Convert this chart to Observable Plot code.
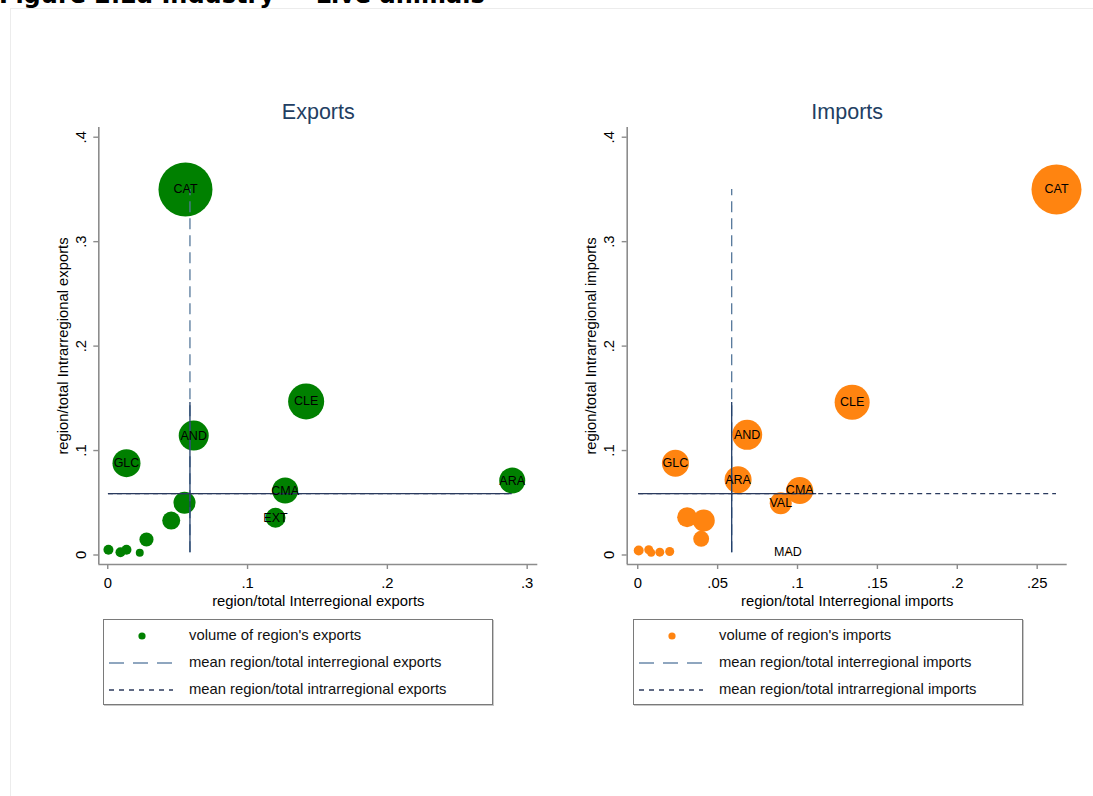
<!DOCTYPE html>
<html>
<head>
<meta charset="utf-8">
<script src="https://cdn.jsdelivr.net/npm/d3@7"></script>
<script src="https://cdn.jsdelivr.net/npm/@observablehq/plot@0.6"></script>
<style>
  html, body { margin: 0; padding: 0; background: #fff; }
  #fig { position: relative; width: 1093px; height: 796px; overflow: hidden; background: #fff;
         font-family: "Liberation Sans", Arial, sans-serif; }
  #heading { position: absolute; left: -1px; top: -17px; font: bold 24px/24px "DejaVu Sans", sans-serif;
             color: #000; white-space: nowrap; }
  #sheet { position: absolute; left: 10px; top: 8px; width: 1100px; height: 800px;
           border: 1px solid #ececec; box-sizing: border-box; }
  .panel { position: absolute; top: 0; }
  .legend { position: absolute; top: 619px; width: 390px; height: 86px; box-sizing: border-box;
            border: 1px solid #7a7a7a; box-shadow: 1px 1px 0 #c8c8c8; background: #fff; }
  .legend svg { position: absolute; left: 0; top: 0; }
  .legend .row { position: absolute; left: 85px; font-size: 14.8px; color: #111; white-space: nowrap;
                 line-height: 16px; }
</style>
</head>
<body>
<div id="fig">
  <div id="sheet"></div>
  <div id="heading">Figure 2.2a Industry — Live animals</div>
</div>
<script>
// Regional shares of interregional (x) and intrarregional (y) trade, marker area = trade volume
const exportRegions = ["CAT", "CLE", "AND", "GLC", "ARA", "CMA", "EXT", "", "", "", "", "", "", ""];
const exportInter   = [0.0556, 0.1419, 0.0615, 0.0134, 0.2893, 0.1269, 0.1200, 0.0549, 0.0454, 0.0277, 0.0005, 0.0091, 0.0134, 0.0229];
const exportIntra   = [0.3500, 0.1470, 0.1144, 0.0879, 0.0713, 0.0617, 0.0356, 0.0500, 0.0330, 0.0148, 0.0050, 0.0027, 0.0050, 0.0021];
const exportVolume  = [0.323, 0.144, 0.100, 0.087, 0.075, 0.075, 0.044, 0.054, 0.036, 0.022, 0.011, 0.011, 0.011, 0.007];

const importRegions = ["CAT", "CLE", "AND", "GLC", "ARA", "CMA", "VAL", "MAD", "", "", "", "", "", "", "", ""];
const importInter   = [0.2621, 0.1342, 0.0685, 0.0236, 0.0628, 0.1014, 0.0895, 0.0940, 0.0309, 0.0413, 0.0397, 0.0006, 0.0069, 0.0084, 0.0138, 0.0200];
const importIntra   = [0.3500, 0.1463, 0.1151, 0.0879, 0.0720, 0.0618, 0.0496, 0.0027, 0.0362, 0.0330, 0.0155, 0.0043, 0.0050, 0.0021, 0.0027, 0.0033];
const importVolume  = [0.277, 0.136, 0.100, 0.081, 0.081, 0.081, 0.054, 0.001, 0.044, 0.054, 0.028, 0.011, 0.009, 0.007, 0.009, 0.009];

// Means of the regional shares (17 regions)
const meanInter = [0.0588, 0.0588];
const meanIntra = [0.0588, 0.0588];
// Extent of the solid reference segments
const solidInterTop = [0.146, 0.146];
const solidIntraRight = [0.2893, 0.112];

const panelTitles = ["Exports", "Imports"];
const xTitles = ["region/total Interregional exports", "region/total Interregional imports"];
const yTitles = ["region/total Intrarregional exports", "region/total Intrarregional imports"];
const legendTitles = [
  ["volume of region's exports", "mean region/total interregional exports", "mean region/total intrarregional exports"],
  ["volume of region's imports", "mean region/total interregional imports", "mean region/total intrarregional imports"]
];

const yTicks = [0, 0.1, 0.2, 0.3, 0.4];
const yTickLabels = ["0", ".1", ".2", ".3", ".4"];
const xTicksExp = [0, 0.1, 0.2, 0.3];
const xTickLabelsExp = ["0", ".1", ".2", ".3"];
const xTicksImp = [0, 0.05, 0.1, 0.15, 0.2, 0.25];
const xTickLabelsImp = ["0", ".05", ".1", ".15", ".2", ".25"];

const colors = ["#008000", "#ff8410"];

function rows(regions, inter, intra, volume) {
  return regions.map((name, i) => ({name, inter: inter[i], intra: intra[i], volume: volume[i]}));
}

const panels = [
  {data: rows(exportRegions, exportInter, exportIntra, exportVolume), xTicks: xTicksExp, xLabels: xTickLabelsExp,
   xDomain: [-0.0064, 0.3076], left: 0, marginLeft: 98.3, marginRight: 22.7},
  {data: rows(importRegions, importInter, importIntra, importVolume), xTicks: xTicksImp, xLabels: xTickLabelsImp,
   xDomain: [-0.0066, 0.2688], left: 530, marginLeft: 96.7, marginRight: 23.3}
];

const yDomain = [-0.0091, 0.4093];
const axisGray = "#8c8c8c";
const fig = document.getElementById("fig");

panels.forEach((p, k) => {
  const xMin = d3.min(p.data, d => d.inter), xMax = d3.max(p.data, d => d.inter);
  const yMin = d3.min(p.data, d => d.intra), yMax = d3.max(p.data, d => d.intra);
  const chart = Plot.plot({
    width: 560,
    height: 620,
    marginLeft: p.marginLeft,
    marginRight: p.marginRight,
    marginTop: 127,
    marginBottom: 56,
    style: {fontFamily: "Liberation Sans, Arial, sans-serif", fontSize: "14.5px", color: "#000", background: "transparent", overflow: "visible"},
    x: {domain: p.xDomain},
    y: {domain: yDomain},
    r: {type: "sqrt", domain: [0, 0.323], range: [0, 27]},
    marks: [
      // axis lines
      Plot.ruleX([p.xDomain[0]], {stroke: axisGray, strokeWidth: 1.6}),
      Plot.ruleY([yDomain[0]], {stroke: axisGray, strokeWidth: 1.6}),
      Plot.axisX({ticks: p.xTicks, tickFormat: d => p.xLabels[p.xTicks.indexOf(d)], tickSize: 5, tickPadding: 8,
                  stroke: axisGray, strokeWidth: 1.4, fill: "#000", fontSize: 14.8, label: null}),
      Plot.axisY({ticks: yTicks, tickFormat: d => yTickLabels[yTicks.indexOf(d)], tickSize: 5, tickPadding: 8,
                  tickRotate: -90, stroke: axisGray, strokeWidth: 1.4, fill: "#000", fontSize: 14.8, label: null}),
      // bubbles
      Plot.dot(p.data, {x: "inter", y: "intra", r: "volume", fill: colors[k], stroke: null}),
      // mean reference lines
      Plot.ruleX([meanInter[k]], {y1: () => yMin, y2: () => yMax, stroke: "#55779a", strokeWidth: 1.3, strokeDasharray: "11,6"}),
      Plot.ruleX([meanInter[k]], {y1: () => yMin, y2: () => solidInterTop[k], stroke: "#23406a", strokeWidth: 1.3}),
      Plot.ruleY([meanIntra[k]], {x1: () => xMin, x2: () => solidIntraRight[k], stroke: "#2a3a5e", strokeWidth: 1.3}),
      Plot.ruleY([meanIntra[k]], {x1: () => xMin, x2: () => xMax, stroke: "#2a3a5e", strokeWidth: 1.3, strokeDasharray: "5,4"}),
      // region labels
      Plot.text(p.data.filter(d => d.name), {x: "inter", y: "intra", text: "name", fontSize: 12.5, fill: "#000"}),
      // titles
      Plot.text([panelTitles[k]], {text: d => d, frameAnchor: "top", lineAnchor: "middle", dy: -15, fontSize: 21.5, fill: "#223e62"}),
      Plot.text([xTitles[k]], {text: d => d, frameAnchor: "bottom", lineAnchor: "middle", dy: 37, fontSize: 14.8, fill: "#000"}),
      Plot.text([yTitles[k]], {text: d => d, frameAnchor: "left", textAnchor: "middle", lineAnchor: "middle", dx: -36, rotate: -90, fontSize: 14.8, fill: "#000"})
    ]
  });
  chart.classList.add("panel");
  chart.style.left = p.left + "px";
  fig.appendChild(chart);

  // legend box
  const legend = document.createElement("div");
  legend.className = "legend";
  legend.style.left = (k === 0 ? 103 : 633) + "px";
  const rowY = [16, 43, 70];
  const svg = d3.create("svg").attr("width", 90).attr("height", 86);
  svg.append("circle").attr("cx", 38).attr("cy", rowY[0]).attr("r", 3.6).attr("fill", colors[k]);
  svg.append("line").attr("x1", 5).attr("x2", 69).attr("y1", rowY[1]).attr("y2", rowY[1])
     .attr("stroke", "#8fa6bf").attr("stroke-width", 2).attr("stroke-dasharray", "15,9");
  svg.append("line").attr("x1", 5).attr("x2", 69).attr("y1", rowY[2]).attr("y2", rowY[2])
     .attr("stroke", "#2c3a5c").attr("stroke-width", 1.4).attr("stroke-dasharray", "5,5");
  legend.appendChild(svg.node());
  legendTitles[k].forEach((t, i) => {
    const r = document.createElement("div");
    r.className = "row";
    r.style.top = (rowY[i] - 9) + "px";
    r.textContent = t;
    legend.appendChild(r);
  });
  fig.appendChild(legend);
});
</script>
</body>
</html>
